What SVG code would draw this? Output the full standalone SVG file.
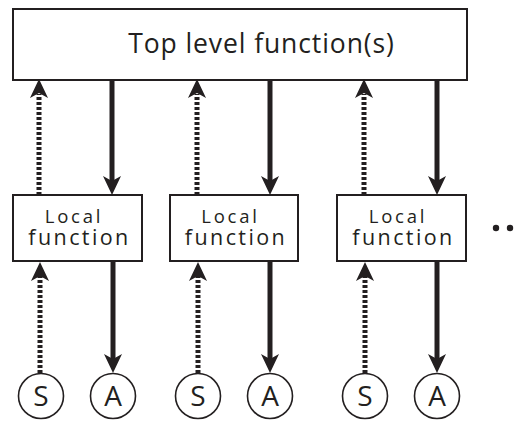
<svg xmlns="http://www.w3.org/2000/svg" width="518" height="421" viewBox="0 0 518 421">
  <style>
    .box { fill: #fff; stroke: #231f20; stroke-width: 2; }
    .ring { fill: #fff; stroke: #231f20; stroke-width: 1.6; }
    .label { font-family: "Open Sans", "Noto Sans", sans-serif; fill: #231f20; text-anchor: middle; }
    .top { font-size: 26.5px; letter-spacing: 0.9px; }
    .l1 { font-size: 18.5px; letter-spacing: 2.8px; }
    .l2 { font-size: 21.5px; letter-spacing: 2.4px; }
    .sym { font-size: 28px; }
    .solid { stroke: #231f20; stroke-width: 5; fill: none; }
    .dotted { stroke: #231f20; stroke-width: 5; fill: none; stroke-dasharray: 3 2; }
    .head { fill: #231f20; }
  </style>
  <defs>
    <path id="up" class="head" d="M0,0 L9,19 L0,14 L-9,19 Z"/>
    <path id="down" class="head" d="M0,0 L9,-19 L0,-14 L-9,-19 Z"/>
  </defs>

  <g id="top-level">
    <rect class="box" x="13" y="9" width="454" height="71"/>
    <text class="label top" x="261.5" y="53">Top level function(s)</text>
  </g>

  <g id="local-1">
    <rect class="box" x="13" y="195" width="129" height="66"/>
    <text class="label"><tspan class="l1" x="74" y="223">Local</tspan><tspan class="l2" x="79.5" y="245">function</tspan></text>
  </g>
  <g id="local-2">
    <rect class="box" x="170" y="195" width="128" height="66"/>
    <text class="label"><tspan class="l1" x="230.5" y="223">Local</tspan><tspan class="l2" x="236" y="245">function</tspan></text>
  </g>
  <g id="local-3">
    <rect class="box" x="337" y="195" width="129" height="66"/>
    <text class="label"><tspan class="l1" x="398" y="223">Local</tspan><tspan class="l2" x="403.5" y="245">function</tspan></text>
  </g>

  <g id="more">
    <circle class="head" cx="496" cy="228" r="3.2"/>
    <circle class="head" cx="510" cy="228" r="3.2"/>
  </g>

  <g id="sensor-1"><circle class="ring" cx="41" cy="396" r="22.5"/><text class="label sym" x="41" y="406">S</text></g>
  <g id="actuator-1"><circle class="ring" cx="113" cy="396" r="22.5"/><text class="label sym" x="113" y="406">A</text></g>
  <g id="sensor-2"><circle class="ring" cx="198" cy="396" r="22.5"/><text class="label sym" x="198" y="406">S</text></g>
  <g id="actuator-2"><circle class="ring" cx="270" cy="396" r="22.5"/><text class="label sym" x="270" y="406">A</text></g>
  <g id="sensor-3"><circle class="ring" cx="365" cy="396" r="22.5"/><text class="label sym" x="365" y="406">S</text></g>
  <g id="actuator-3"><circle class="ring" cx="437" cy="396" r="22.5"/><text class="label sym" x="437" y="406">A</text></g>

  <g id="connectors">
    <!-- upward dotted: local -> top -->
    <line class="dotted" x1="39" y1="195" x2="39" y2="94"/><use href="#up" x="39" y="79"/>
    <line class="dotted" x1="197" y1="195" x2="197" y2="94"/><use href="#up" x="197" y="79"/>
    <line class="dotted" x1="364" y1="195" x2="364" y2="94"/><use href="#up" x="364" y="79"/>
    <!-- downward solid: top -> local -->
    <line class="solid" x1="112" y1="80" x2="112" y2="181"/><use href="#down" x="112" y="195"/>
    <line class="solid" x1="270" y1="80" x2="270" y2="181"/><use href="#down" x="270" y="195"/>
    <line class="solid" x1="437" y1="80" x2="437" y2="181"/><use href="#down" x="437" y="195"/>
    <!-- upward dotted: sensor -> local -->
    <line class="dotted" x1="40" y1="373" x2="40" y2="276"/><use href="#up" x="40" y="262"/>
    <line class="dotted" x1="198" y1="373" x2="198" y2="276"/><use href="#up" x="198" y="262"/>
    <line class="dotted" x1="365" y1="373" x2="365" y2="276"/><use href="#up" x="365" y="262"/>
    <!-- downward solid: local -> actuator -->
    <line class="solid" x1="113" y1="261" x2="113" y2="359"/><use href="#down" x="113" y="373"/>
    <line class="solid" x1="270" y1="261" x2="270" y2="359"/><use href="#down" x="270" y="373"/>
    <line class="solid" x1="437" y1="261" x2="437" y2="359"/><use href="#down" x="437" y="373"/>
  </g>
</svg>
